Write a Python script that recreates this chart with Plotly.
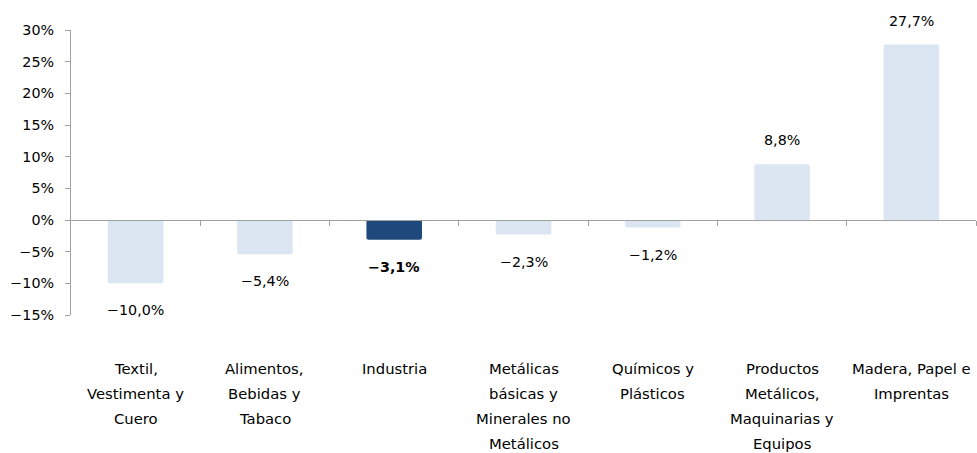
import plotly.graph_objects as go

categories = [
    "Textil, Vestimenta y Cuero",
    "Alimentos, Bebidas y Tabaco",
    "Industria",
    "Metálicas básicas y Minerales no Metálicos",
    "Químicos y Plásticos",
    "Productos Metálicos, Maquinarias y Equipos",
    "Madera, Papel e Imprentas",
]
label_lines = [
    ["Textil,", "Vestimenta y", "Cuero"],
    ["Alimentos,", "Bebidas y", "Tabaco"],
    ["Industria"],
    ["Metálicas", "básicas y", "Minerales no", "Metálicos"],
    ["Químicos y", "Plásticos"],
    ["Productos", "Metálicos,", "Maquinarias y", "Equipos"],
    ["Madera, Papel e", "Imprentas"],
]
values = [-10.0, -5.4, -3.1, -2.3, -1.2, 8.8, 27.7]
highlight = "Industria"

y_ticks = [-15, -10, -5, 0, 5, 10, 15, 20, 25, 30]
y_tick_text = [(f"{t}%").replace("-", "\u2212") for t in y_ticks]

LIGHT = "#DCE6F2"
DARK = "#1F497D"
AXIS = "#A0A0A0"
FONT = "DejaVu Sans"
FS_CAT = 14.8
FS_VAL = 14.3

colors = [DARK if c == highlight else LIGHT for c in categories]

def fmt(v):
    s = f"{v:.1f}".replace(".", ",") + "%"
    return s.replace("-", "\u2212")

fig = go.Figure()
fig.add_trace(go.Bar(
    x=categories, y=values,
    marker=dict(color=colors, line=dict(width=0), cornerradius=2),
    width=0.43,
    hoverinfo="skip",
))
# invisible helper trace for zero-line axis
fig.add_trace(go.Scatter(x=[0], y=[0], xaxis="x2", yaxis="y",
                         mode="markers", marker=dict(opacity=0), hoverinfo="skip"))

annotations = []
for c, v in zip(categories, values):
    bold = c == highlight
    annotations.append(dict(
        x=c, y=v, xref="x", yref="y",
        text=(f"<b>{fmt(v)}</b>" if bold else fmt(v)),
        showarrow=False,
        yshift=(24 if v >= 0 else -27),
        font=dict(family=FONT, size=FS_VAL, color="#000000"),
        xanchor="center", yanchor="middle",
    ))
for c, lines in zip(categories, label_lines):
    for i, line in enumerate(lines):
        annotations.append(dict(
            x=c, y=0, xref="x", yref="paper",
            text=line, showarrow=False,
            yshift=-(53 + 25 * i),
            font=dict(family=FONT, size=FS_CAT, color="#000000"),
            xanchor="center", yanchor="middle",
        ))

n = len(categories)
fig.update_layout(
    width=977, height=453,
    margin=dict(l=71, r=1, t=30, b=138),
    plot_bgcolor="white", paper_bgcolor="white",
    showlegend=False,
    font=dict(family=FONT, size=FS_VAL, color="#000000"),
    xaxis=dict(
        type="category", range=[-0.5, n - 0.5],
        showticklabels=False, showline=False, ticks="",
        showgrid=False, zeroline=False, fixedrange=True,
    ),
    xaxis2=dict(
        overlaying="x", anchor="free", position=1/3,
        range=[-0.5, n - 0.5],
        tickvals=[i + 0.5 for i in range(n)],
        ticks="outside", ticklen=5, tickcolor=AXIS, tickwidth=1,
        showticklabels=False, showline=True, linecolor=AXIS, linewidth=1,
        showgrid=False, zeroline=False,
    ),
    yaxis=dict(
        range=[-15, 30], tickvals=y_ticks, ticktext=y_tick_text,
        ticks="outside", ticklen=5, tickcolor=AXIS, tickwidth=1,
        showline=True, linecolor=AXIS, linewidth=1,
        showgrid=False, zeroline=False,
        ticklabelstandoff=8,
        tickfont=dict(family=FONT, size=FS_VAL, color="#000000"),
    ),
    annotations=annotations,
)

fig.write_html(
    "out.html",
    config={"displayModeBar": False},
    post_script="document.body.style.margin='0';document.body.style.overflow='hidden';",
)
